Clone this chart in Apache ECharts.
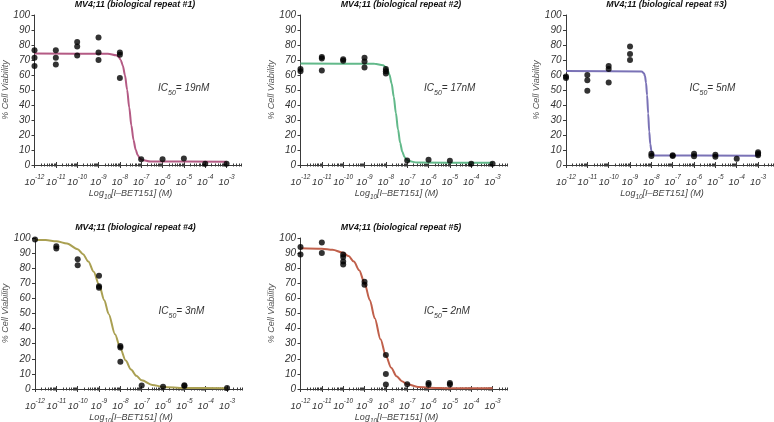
<!DOCTYPE html>
<html><head><meta charset="utf-8">
<script src="https://cdn.jsdelivr.net/npm/echarts@6/dist/echarts.min.js"></script>
<style>html,body{margin:0;padding:0;background:#fff}#c{width:774px;height:422px}</style>
</head><body><div id="c"></div>
<script>
// ---- data ----
const logConc = [-12, -11, -10, -9, -8, -7, -6, -5, -4, -3];
const tickExponents = [-12, -11, -10, -9, -8, -7, -6, -5, -4, -3];
const titles = ['MV4;11 (biological repeat #1)', 'MV4;11 (biological repeat #2)', 'MV4;11 (biological repeat #3)', 'MV4;11 (biological repeat #4)', 'MV4;11 (biological repeat #5)'];
const ic50Labels = ['19nM', '17nM', '5nM', '3nM', '2nM'];

const repeat1 = [[76.5,71.5,66],[76.5,71.5,67],[82,79,73],[85,75,70],[75,73.5,58],[3.8],[3.8],[4.3],[0.8],[0.8]];
const repeat2 = [[64,62.5],[72,71,63],[70.5,69.5],[71.5,69,65],[64,62.5,61],[3],[3.5],[2.8],[0.8],[0.8]];
const repeat3 = [[59,58],[60,56.5,49.5],[66,64,55],[79,74,70],[7.5,6],[6.5,6],[7.5,5.8],[6.8,5.5],[4.2],[8.5,7.5,6.5]];
const repeat4 = [[99],[94.5,93],[86,82],[75,68,67],[28.5,27.5,18],[2.3],[1.5],[2.5,2],[],[0.7]];
const repeat5 = [[94,89],[97,90],[89,87.5,84.5,82.5],[71,69],[22.5,10,3],[3.2],[4,2.8],[4,3],[],[]];

const curve1X = [-12,-8.56,-8.16,-8.06,-7.96,-7.86,-7.76,-7.66,-7.56,-7.46,-7.36,-7.26,-7.16,-7.06,-6.96,-6.56,-3];
const curve1Y = [74.3,74.2,73.1,72.1,70.0,66.2,59.8,50.2,38.3,26.3,16.7,10.3,6.5,4.4,3.4,2.3,2.2];
const curve2X = [-12,-8.53,-8.13,-8.03,-7.93,-7.83,-7.73,-7.63,-7.53,-7.43,-7.33,-7.23,-7.13,-7.03,-6.93,-6.53,-3];
const curve2Y = [67.6,67.5,66.5,65.5,63.7,60.2,54.3,45.5,34.6,23.6,14.8,8.9,5.4,3.6,2.6,1.6,1.5];
const curve3X = [-12,-8.45,-8.35,-8.3,-8.25,-8.2,-8.15,-8.1,-8.05,-8.0,-7.95,-7.85,-3];
const curve3Y = [62.6,62.4,61.2,59.3,54.9,46.5,34.4,22.3,13.9,9.5,7.6,6.4,6.2];
const curve4X = [-12,-11.5,-11,-10.5,-10,-9.75,-9.5,-9.25,-9,-8.75,-8.55,-8.25,-8,-7.75,-7.5,-7.25,-7,-6.5,-6,-5,-3];
const curve4Y = [98.8,98.6,97.9,96.3,92.6,89.3,84.4,77.7,69.1,58.7,49.75,36.3,26.8,18.8,12.9,8.7,5.8,2.7,1.4,0.64,0.5];
const curve5X = [-12,-11,-10.5,-10,-9.75,-9.5,-9.25,-9,-8.75,-8.52,-8.25,-8,-7.75,-7.5,-7.25,-7,-6.5,-6,-5,-3];
const curve5Y = [93.2,92.9,92.2,90.2,88.0,84.4,78.6,70.2,58.8,46.9,32.9,22.0,14.0,8.5,5.2,3.2,1.4,0.8,0.5,0.5];

const repeats = [repeat1, repeat2, repeat3, repeat4, repeat5];
const curvesX = [curve1X, curve2X, curve3X, curve4X, curve5X];
const curvesY = [curve1Y, curve2Y, curve3Y, curve4Y, curve5Y];

// ---- styling / layout ----
const colors = ['#b45a84', '#62b98a', '#7a72b6', '#aaa052', '#c0604b'];
const boxes = [
  {left: 34.5, top: 15, h: 150},
  {left: 300.5, top: 15, h: 150},
  {left: 566, top: 15, h: 150},
  {left: 35, top: 238, h: 151},
  {left: 300.5, top: 238, h: 151}
];
const W = 207, XMIN = -12, XMAX = -2.3;
const FONT = '"Liberation Sans", Arial, sans-serif';
const AX = '#3a3a3a';

const minorTicks = [];
tickExponents.concat([-2]).forEach(e => {
  for (let k = 2; k <= 9; k++) {
    const v = (e - 1) + Math.log10(k);
    if (v > XMIN && v < XMAX) minorTicks.push(v);
  }
});

const grid = [], xAxis = [], yAxis = [], series = [], graphic = [];
boxes.forEach((b, i) => {
  grid.push({left: b.left, top: b.top, width: W, height: b.h});
  const base = {gridIndex: i, type: 'value', min: XMIN, max: XMAX, position: 'bottom', splitLine: {show: false}};
  xAxis.push(Object.assign({}, base, {
    axisLine: {show: true, onZero: false, lineStyle: {color: AX, width: 1}},
    axisTick: {show: true, customValues: tickExponents, length: 3, lineStyle: {color: AX}},
    axisLabel: {
      customValues: tickExponents, margin: 9,
      formatter: v => '{b|10}{s|' + String(v) + '}',
      rich: {
        b: {fontSize: 9.5, fontStyle: 'italic', fontFamily: FONT, color: '#333', lineHeight: 13, verticalAlign: 'bottom'},
        s: {fontSize: 6.5, fontStyle: 'italic', fontFamily: FONT, color: '#333', lineHeight: 7, verticalAlign: 'top'}
      }
    }
  }));
  xAxis.push(Object.assign({}, base, {
    axisLine: {show: false}, axisLabel: {show: false},
    axisTick: {show: true, inside: true, customValues: tickExponents, length: 3, lineStyle: {color: AX}}
  }));
  xAxis.push(Object.assign({}, base, {
    axisLine: {show: false}, axisLabel: {show: false},
    axisTick: {show: true, customValues: minorTicks, length: 1.5, lineStyle: {color: AX}}
  }));
  xAxis.push(Object.assign({}, base, {
    axisLine: {show: false}, axisLabel: {show: false},
    axisTick: {show: true, inside: true, customValues: minorTicks, length: 1.5, lineStyle: {color: AX}}
  }));
  yAxis.push({
    gridIndex: i, type: 'value', min: 0, max: 100, interval: 10,
    axisLine: {show: true, lineStyle: {color: AX, width: 1}},
    axisTick: {show: true, length: 3, lineStyle: {color: AX}},
    axisLabel: {fontSize: 10, fontStyle: 'italic', fontFamily: FONT, color: '#333', margin: 4.5},
    splitLine: {show: false}
  });

  const pts = [];
  logConc.forEach((x, j) => repeats[i][j].forEach(y => pts.push([x, y])));
  series.push({
    type: 'line', xAxisIndex: 4 * i, yAxisIndex: i,
    data: curvesX[i].map((x, j) => [x, curvesY[i][j]]),
    smooth: 0.3, smoothMonotone: 'x', showSymbol: false, symbol: 'none',
    lineStyle: {color: colors[i], width: 2}, z: 2, silent: true, animation: false
  });
  series.push({
    type: 'scatter', xAxisIndex: 4 * i, yAxisIndex: i, data: pts,
    symbolSize: 6, itemStyle: {color: '#000'}, z: 3, animation: false
  });

  const cx = b.left + W / 2;
  graphic.push({type: 'text', x: cx - 3, y: b.top - 10, style: {
    text: titles[i], font: 'italic bold 8.8px ' + FONT, fill: '#111', align: 'center', verticalAlign: 'middle'}});
  graphic.push({type: 'text', x: b.left - 29.5, y: b.top + b.h / 2, rotation: Math.PI / 2, style: {
    text: '% Cell Viability', font: 'italic 9px ' + FONT, fill: '#555', align: 'center', verticalAlign: 'middle'}});
  graphic.push({type: 'text', x: b.left + 96, y: b.top + b.h + 29.5, style: {
    text: '{a|Log}{s|10}{a|[I\u2013BET151] (M)}', align: 'center', verticalAlign: 'middle',
    rich: {
      a: {fontSize: 9, fontStyle: 'italic', fontFamily: FONT, fill: '#444', lineHeight: 12, verticalAlign: 'top'},
      s: {fontSize: 6.5, fontStyle: 'italic', fontFamily: FONT, fill: '#444', lineHeight: 7, verticalAlign: 'bottom'}
    }}});
  graphic.push({type: 'text', x: b.left + 123.5, y: b.top + 75, style: {
    text: '{a|IC}{s|50}{a|= ' + ic50Labels[i] + '}', align: 'left', verticalAlign: 'middle',
    rich: {
      a: {fontSize: 10, fontStyle: 'italic', fontFamily: FONT, fill: '#333', lineHeight: 13, verticalAlign: 'top'},
      s: {fontSize: 7, fontStyle: 'italic', fontFamily: FONT, fill: '#333', lineHeight: 8, verticalAlign: 'bottom'}
    }}});
});

const chart = echarts.init(document.getElementById('c'), null, {renderer: 'canvas'});
chart.setOption({animation: false, backgroundColor: '#fff', grid, xAxis, yAxis, series, graphic});
</script></body></html>
